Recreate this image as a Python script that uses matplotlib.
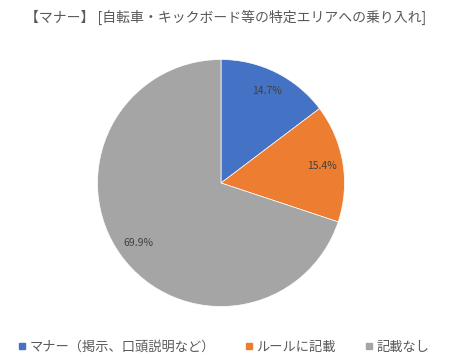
import matplotlib
matplotlib.use("Agg")
import matplotlib.pyplot as plt
from matplotlib.lines import Line2D

plt.rcParams['font.family'] = ['Noto Sans CJK JP', 'DejaVu Sans']

title = "【マナー】 [自転車・キックボード等の特定エリアへの乗り入れ]"
categories = ["マナー（掲示、口頭説明など）", "ルールに記載", "記載なし"]
values = [14.7, 15.4, 69.9]
colors = ["#4472C4", "#ED7D31", "#A5A5A5"]

fig = plt.figure(figsize=(4.6, 3.59), dpi=100)
W, H = 460, 359
r = 123.5
cx, cy = 221, 183
ax = fig.add_axes([(cx - r) / W, 1 - (cy + r) / H, 2 * r / W, 2 * r / H])
wedges, texts, autotexts = ax.pie(values, colors=colors, startangle=90, counterclock=False,
                                  autopct=lambda p: f"{p:.1f}%", pctdistance=0.83,
                                  wedgeprops=dict(linewidth=0.5, edgecolor='white'),
                                  textprops=dict(fontsize=7.5, color='#404040'))
ax.set_xlim(-1, 1)
ax.set_ylim(-1, 1)
ax.set_aspect('equal')

fig.text(226 / W, 1 - 17 / H, title, ha='center', va='center', fontsize=10, color='#595959')

handles = [Line2D([0], [0], marker='s', linestyle='none', markersize=5,
                  markerfacecolor=c, markeredgecolor=c) for c in colors]
fig.legend(handles, categories, loc='center', bbox_to_anchor=(224 / W, 1 - 347 / H), ncol=3,
           frameon=False, fontsize=9.5, labelcolor='#595959', handlelength=0.6, handletextpad=0.3,
           columnspacing=2.2)

fig.savefig("out.png", dpi=100)
